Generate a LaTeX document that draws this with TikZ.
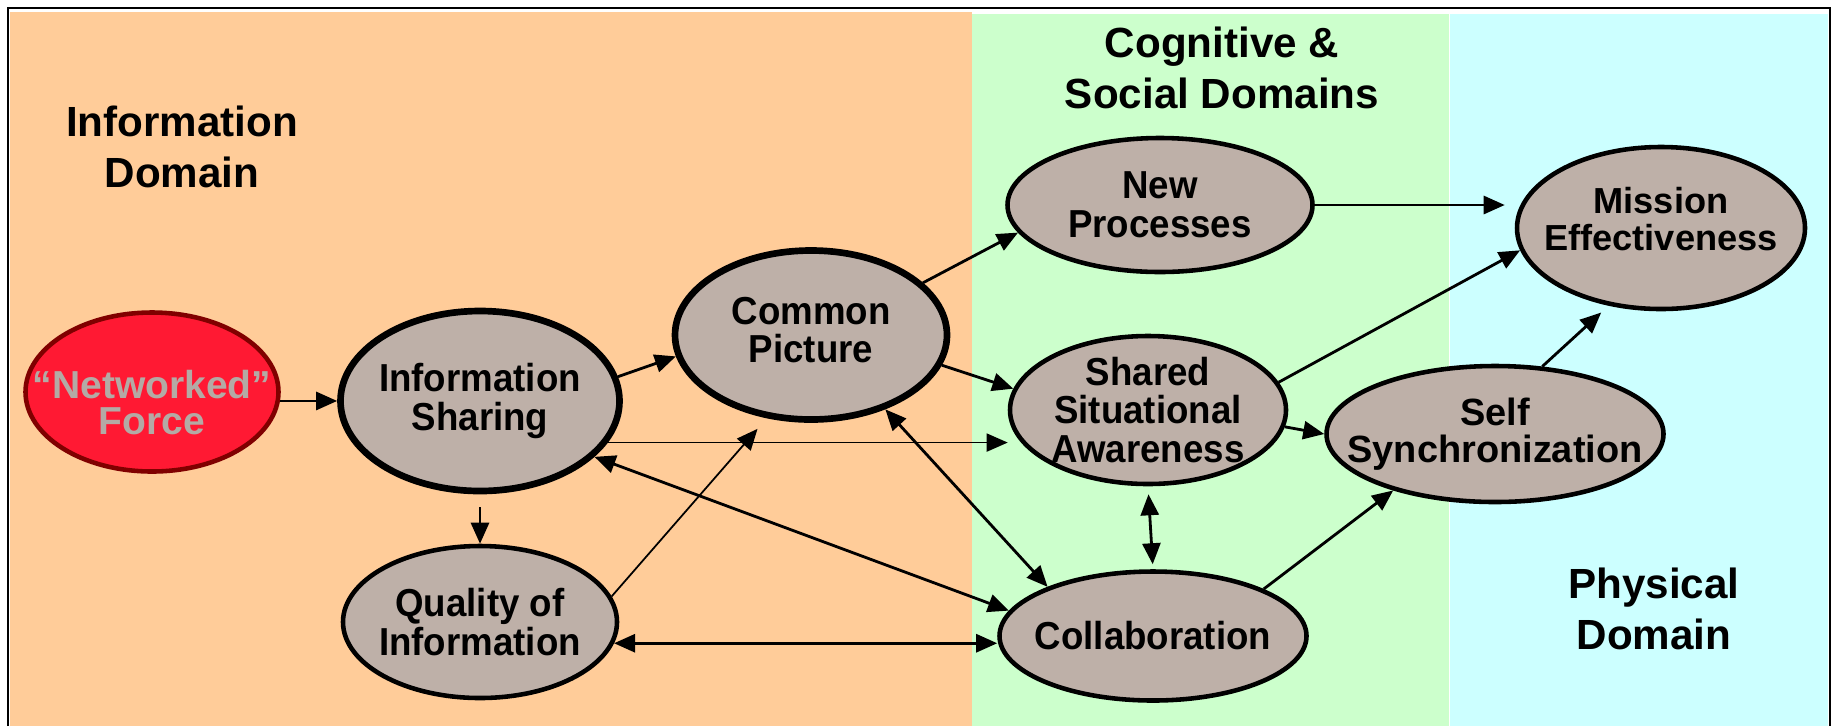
\documentclass[tikz,border=0pt]{standalone}
\usepackage{fontspec}
\setmainfont{Liberation Sans}
\newfontfamily\narrowsans[FakeStretch=0.94]{Liberation Sans}
\usetikzlibrary{shapes.geometric,arrows.meta}

\definecolor{infobg}{RGB}{255,204,153}
\definecolor{cogbg}{RGB}{204,255,204}
\definecolor{physbg}{RGB}{204,255,255}
\definecolor{bubfill}{RGB}{190,176,168}
\definecolor{forcered}{RGB}{255,25,51}
\definecolor{forceedge}{RGB}{128,0,0}
\definecolor{forcetext}{RGB}{180,170,165}

\tikzset{
  bub/.style={ellipse, draw, fill=bubfill, line width=1.3pt,
    inner xsep=-4mm, inner ysep=-2mm, align=center,
    font=\narrowsans\bfseries\fontsize{11.1}{11}\selectfont},
  bigbub/.style={bub, line width=1.9pt},
  widebub/.style={bub, font=\bfseries\fontsize{#1}{10.4}\selectfont},
  dom/.style={align=center, font=\bfseries\fontsize{12}{14.5}\selectfont},
  arr/.style={-{Triangle[length=2.1mm,width=1.8mm]}, line width=0.8pt},
  biarr/.style={{Triangle[length=2.1mm,width=1.8mm]}-{Triangle[length=2.1mm,width=1.8mm]}, line width=0.8pt},
  thinarr/.style={arr, line width=0.5pt}
}

\begin{document}
\begin{tikzpicture}
  \useasboundingbox (0,0) rectangle (18.37,7.26);

  % domains
  \fill[infobg] (0.10,0) rectangle (9.72,7.14);
  \fill[cogbg] (9.72,0) rectangle (14.49,7.12);
  \fill[physbg] (14.50,0) rectangle (18.28,7.12);
  \draw[line width=0.8pt] (0.08,0) |- (18.30,7.18) -- (18.30,0);

  \node[dom] (infodom) at (1.82,5.79) {Information\\Domain};
  \node[dom] (cogdom) at (12.22,6.58) {Cognitive \&\\Social Domains};
  \node[dom] (physdom) at (16.54,1.17) {Physical\\Domain};

  % bubbles
  \node[widebub=11.1, draw=forceedge, fill=forcered, text=forcetext, text height=24.5pt,
    minimum width=2.53cm, minimum height=1.59cm] (force) at (1.52,3.34) {“Networked”\\Force};
  \node[bigbub, minimum width=2.79cm, minimum height=1.80cm] (infoshare) at (4.80,3.25) {Information\\Sharing};
  \node[bub, minimum width=2.74cm, minimum height=1.52cm] (quality) at (4.80,1.04) {Quality of\\Information};
  \node[bigbub, text depth=3pt, minimum width=2.72cm, minimum height=1.69cm] (picture) at (8.11,3.91) {Common\\Picture};
  \node[bub, minimum width=3.05cm, minimum height=1.34cm] (newproc) at (11.60,5.21) {New\\Processes};
  \node[bub, minimum width=2.76cm, minimum height=1.48cm] (ssa) at (11.48,3.16) {Shared\\Situational\\Awareness};
  \node[bub, minimum width=3.07cm, minimum height=1.29cm] (collab) at (11.53,0.90) {Collaboration};
  \node[widebub=10.8, minimum width=3.37cm, minimum height=1.36cm] (selfsync) at (14.95,2.92) {Self\\Synchronization};
  \node[widebub=10.3, text depth=5.2pt, minimum width=2.88cm, minimum height=1.62cm] (mission) at (16.61,4.98) {Mission\\Effectiveness};

  % links
  \draw[arr] (force.-4) -- (force.-4 -| infoshare.west);
  \draw[arr] (infoshare.10) -- (picture.189);
  \draw[arr, shorten <=1.3mm] (infoshare.south) -- (quality.north);
  \draw[thinarr] (infoshare.-18) -- (infoshare.-18 -| ssa.west);
  \draw[biarr] (infoshare.-26) -- (collab.170);
  \draw[thinarr, shorten >=1.4mm] (quality.11) -- (picture.242);
  \draw[biarr] (quality.-9) -- (quality.-9 -| collab.west);
  \draw[arr] (picture.25) -- (newproc.191);
  \draw[arr] (picture.-13) -- (ssa.171);
  \draw[biarr] (picture.-45) -- (collab.155);
  \draw[biarr, shorten <=0.8mm, shorten >=0.5mm] (ssa.south) -- (collab.north);
  \draw[arr] (ssa.-7) -- (selfsync.west);
  \draw[arr] (ssa.12) -- (mission.189);
  \draw[arr, shorten >=1mm] (newproc.east) -- (newproc.east -| mission.west);
  \draw[arr] (collab.23) -- (selfsync.209);
  \draw[arr, shorten >=1mm] (selfsync.55) -- (mission.236);

\end{tikzpicture}
\end{document}
